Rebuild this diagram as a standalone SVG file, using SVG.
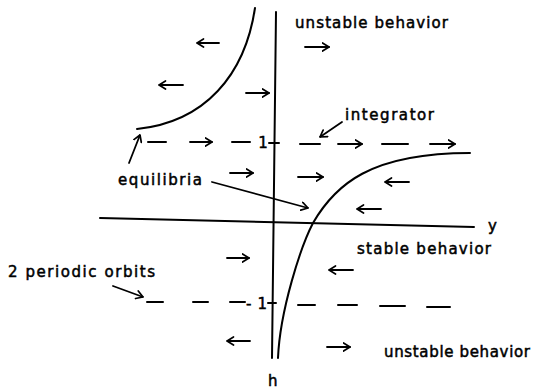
<svg xmlns="http://www.w3.org/2000/svg" width="536" height="391" viewBox="0 0 536 391">
<style>
  text { font-family: "DejaVu Sans", "Liberation Sans", sans-serif; font-size: 15px; fill: #000; stroke: #000; stroke-width: 0.5; }
  .ln { stroke: #000; stroke-width: 2; fill: none; stroke-linecap: round; }
  .ar { stroke: #000; stroke-width: 1.8; fill: none; stroke-linecap: round; marker-end: url(#ah); }
</style>
<defs>
  <marker id="ah" viewBox="0 0 8 10" refX="7.5" refY="5" markerWidth="8" markerHeight="10" markerUnits="userSpaceOnUse" orient="auto">
    <path d="M1,1 L7.5,5 L1,9" fill="none" stroke="#000" stroke-width="1.7" stroke-linecap="round" stroke-linejoin="round"/>
  </marker>
</defs>
<rect width="536" height="391" fill="#fff"/>

<g id="axes">
  <line class="ln" x1="276" y1="12" x2="272" y2="358"/>
  <line class="ln" x1="100" y1="218" x2="474" y2="227"/>
  <line class="ln" x1="269" y1="143" x2="279" y2="143"/>
  <line class="ln" x1="268" y1="303" x2="276" y2="303"/>
  <text x="263" y="148" text-anchor="middle">1</text>
  <text x="246" y="309" textLength="21" lengthAdjust="spacing">-1</text>
  <text x="488" y="231">y</text>
  <text x="268" y="386">h</text>
</g>

<g id="curves">
  <path class="ln" d="M255,8 C245,75 205,122 137,129"/>
  <path class="ln" d="M278,358 C280,310 301,246 313,223 C335,185 370,153 470,153"/>
</g>

<g id="integrator-line">
  <line class="ln" x1="148" y1="142" x2="166" y2="142"/>
  <line class="ln" x1="232" y1="142" x2="250" y2="142"/>
  <line class="ln" x1="300" y1="144" x2="320" y2="144"/>
  <line class="ln" x1="382" y1="144" x2="408" y2="144"/>
  <line class="ar" x1="190" y1="142" x2="212" y2="142"/>
  <line class="ar" x1="338" y1="144" x2="362" y2="144"/>
  <line class="ar" x1="430" y1="144" x2="455" y2="144"/>
</g>

<g id="periodic-line">
  <line class="ln" x1="147" y1="302" x2="163" y2="302"/>
  <line class="ln" x1="193" y1="302" x2="208" y2="302"/>
  <line class="ln" x1="230" y1="302" x2="245" y2="302"/>
  <line class="ln" x1="298" y1="305" x2="315" y2="305"/>
  <line class="ln" x1="338" y1="305" x2="357" y2="305"/>
  <line class="ln" x1="380" y1="306" x2="405" y2="306"/>
  <line class="ln" x1="427" y1="307" x2="450" y2="307"/>
</g>

<g id="field-arrows">
  <line class="ar" x1="219" y1="43" x2="197" y2="43"/>
  <line class="ar" x1="183" y1="85" x2="159" y2="85"/>
  <line class="ar" x1="246" y1="93" x2="269" y2="93"/>
  <line class="ar" x1="305" y1="47" x2="329" y2="47"/>
  <line class="ar" x1="230" y1="173" x2="253" y2="173"/>
  <line class="ar" x1="298" y1="177" x2="323" y2="177"/>
  <line class="ar" x1="409" y1="182" x2="385" y2="182"/>
  <line class="ar" x1="381" y1="209" x2="357" y2="209"/>
  <line class="ar" x1="227" y1="258" x2="249" y2="258"/>
  <line class="ar" x1="353" y1="270" x2="329" y2="270"/>
  <line class="ar" x1="250" y1="341" x2="227" y2="341"/>
  <line class="ar" x1="327" y1="347" x2="350" y2="347"/>
</g>

<g id="labels">
  <text id="unstable-top" x="295" y="28" textLength="153" lengthAdjust="spacing">unstable behavior</text>
  <text id="integrator" x="345" y="120" textLength="89" lengthAdjust="spacing">integrator</text>
  <text id="equilibria" x="118" y="185" textLength="84" lengthAdjust="spacing">equilibria</text>
  <text id="stable" x="357" y="254" textLength="134" lengthAdjust="spacing">stable behavior</text>
  <text id="periodic" x="8" y="277" textLength="147" lengthAdjust="spacing">2 periodic orbits</text>
  <text id="unstable-bottom" x="384" y="357" textLength="146" lengthAdjust="spacing">unstable behavior</text>
</g>

<g id="connectors">
  <line class="ar" x1="342" y1="122" x2="320" y2="137"/>
  <line class="ar" x1="129" y1="163" x2="140" y2="135"/>
  <line class="ar" x1="212" y1="182" x2="308" y2="208"/>
  <line class="ar" x1="113" y1="286" x2="143" y2="297"/>
</g>
</svg>
